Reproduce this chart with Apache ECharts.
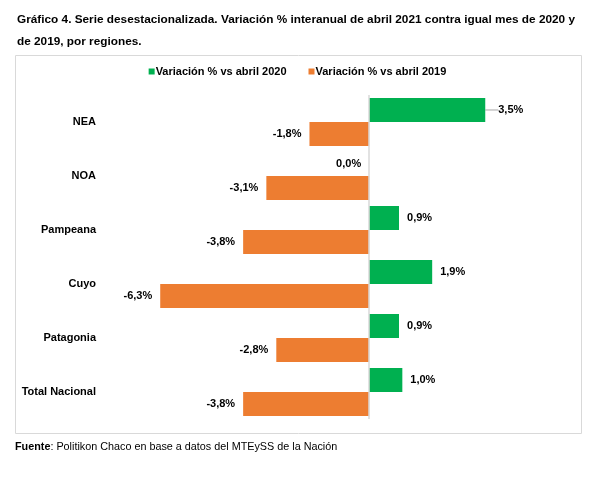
<!DOCTYPE html>
<html>
<head>
<meta charset="utf-8">
<script src="https://cdn.jsdelivr.net/npm/echarts@6/dist/echarts.min.js"></script>
<style>
  html, body { margin: 0; padding: 0; background: #fff; }
  #chart { width: 595px; height: 477px; }
</style>
</head>
<body>
<div id="chart"></div>
<script>
var regions = ['NEA', 'NOA', 'Pampeana', 'Cuyo', 'Patagonia', 'Total Nacional'];
var vs2020 = [3.5, 0.0, 0.9, 1.9, 0.9, 1.0];
var vs2019 = [-1.8, -3.1, -3.8, -6.3, -2.8, -3.8];
var seriesNames = ['Variación % vs abril 2020', 'Variación % vs abril 2019'];

var green = '#00b050';
var orange = '#ed7d31';
var font = '"Liberation Sans", Arial, sans-serif';

function fmt(v) { return v.toFixed(1).replace('.', ',') + '%'; }
function withLabels(arr, leaderIndex) {
  return arr.map(function(v, i) {
    var item = { value: v, label: { position: v > 0 ? 'right' : 'left' } };
    if (i === leaderIndex) item.labelLine = { show: true, lineStyle: { color: '#a6a6a6', width: 1 } };
    return item;
  });
}

var chart = echarts.init(document.getElementById('chart'), null, { renderer: 'canvas' });
chart.setOption({
  animation: false,
  textStyle: { fontFamily: font },
  title: {
    text: 'Gráfico 4. Serie desestacionalizada. Variación % interanual de abril 2021 contra igual mes de 2020 y\nde 2019, por regiones.',
    left: 12, top: 4,
    textStyle: { fontFamily: font, fontSize: 11.8, fontWeight: 'bold', color: '#000', lineHeight: 22 }
  },
  legend: {
    data: seriesNames,
    top: 61, left: 'center',
    icon: 'rect', itemWidth: 6, itemHeight: 6, itemGap: 22,
    textStyle: { fontFamily: font, fontSize: 11, fontWeight: 'bold', color: '#000', padding: [0, 0, 0, -4] }
  },
  graphic: [
    { type: 'rect', shape: { x: 15.5, y: 55.5, width: 566, height: 378 },
      style: { fill: 'none', stroke: '#d9d9d9', lineWidth: 1 }, silent: true },
    { type: 'text', left: 15, top: 442,
      style: { text: '{b|Fuente}: Politikon Chaco en base a datos del MTEySS de la Nación',
        fontFamily: font, fontSize: 10.8, fill: '#000',
        rich: { b: { fontFamily: font, fontSize: 10.8, fontWeight: 'bold', fill: '#000' } } } }
  ],
  grid: { left: 137, right: 60, top: 95, height: 324, containLabel: false },
  xAxis: {
    type: 'value', min: -7, max: 5, show: false
  },
  yAxis: {
    type: 'category', data: regions, inverse: true,
    axisLine: { show: false }, axisTick: { show: false },
    axisLabel: { color: '#000', fontFamily: font, fontSize: 11, fontWeight: 'bold', margin: 41 }
  },
  series: [
    {
      name: seriesNames[0], type: 'bar', data: withLabels(vs2020, 0),
      barGap: '0%', barCategoryGap: '11%',
      itemStyle: { color: green },
      label: { show: true, distance: 8, color: '#000', fontFamily: font, fontSize: 11, fontWeight: 'bold',
        formatter: function(p) { return fmt(p.value); } },
      labelLayout: function(p) { return p.dataIndex === 0 ? { dx: 5 } : {}; },
      markLine: {
        silent: true, symbol: 'none', label: { show: false },
        lineStyle: { color: '#d9d9d9', type: 'solid', width: 1.5 },
        data: [{ xAxis: 0 }]
      },
      z: 3
    },
    {
      name: seriesNames[1], type: 'bar', data: withLabels(vs2019, -1),
      itemStyle: { color: orange },
      label: { show: true, distance: 8, color: '#000', fontFamily: font, fontSize: 11, fontWeight: 'bold',
        formatter: function(p) { return fmt(p.value); } },
      z: 3
    }
  ]
});
</script>
</body>
</html>
